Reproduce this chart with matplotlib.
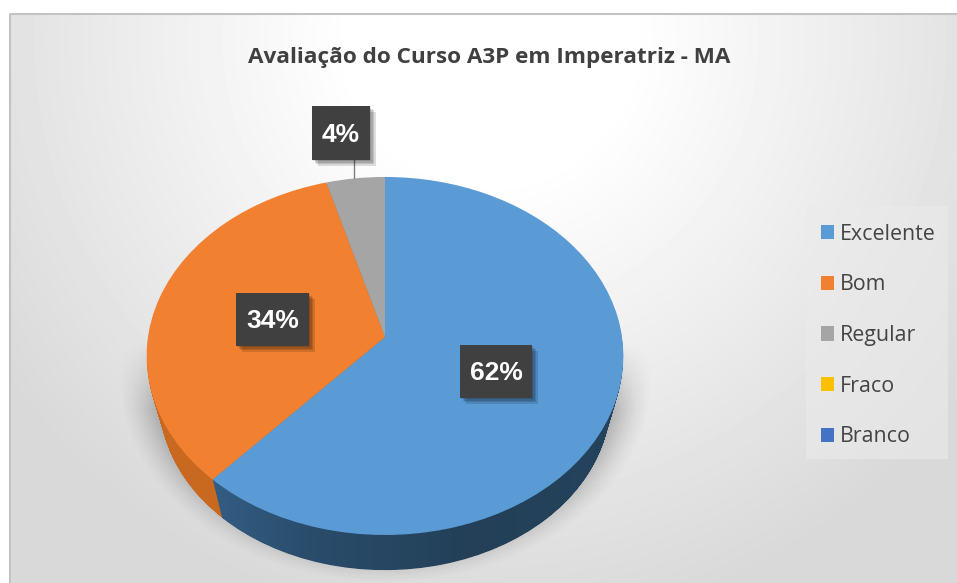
import numpy as np
import matplotlib
matplotlib.use("Agg")
import matplotlib.pyplot as plt
import matplotlib.patheffects as pe
from matplotlib.colors import LinearSegmentedColormap
from matplotlib.patches import Rectangle, Wedge
from matplotlib.path import Path
from matplotlib.transforms import Transform

# dados
categorias = ["Excelente", "Bom", "Regular", "Fraco", "Branco"]
valores = [61.7, 33.9, 4.4, 0, 0]
cores = ["#5b9bd5", "#f18030", "#a5a5a5", "#ffc000", "#4472c4"]
titulo = "Avaliação do Curso A3P em Imperatriz - MA"

W, H = 957, 583
PROFUNDIDADE = 46


class Perspectiva(Transform):
    """Leva o circulo unitario do pie para pixels, com perspectiva."""
    input_dims = output_dims = 2
    is_affine = False
    is_separable = False
    has_inverse = False

    def __init__(self, d=0):
        super().__init__()
        self.d = d

    def transform_non_affine(self, values):
        values = np.asarray(values, dtype=float)
        u, v = values[:, 0], values[:, 1]
        k = 0.106
        q = 1 + k * v
        # a base da pizza fica mais longe, entao encolhe um pouco
        s = 1 - 0.055 * self.d / PROFUNDIDADE
        return np.column_stack([385 + s * 237 * u / q, 337 + self.d - s * 177 * v / q])


fig = plt.figure(figsize=(W / 100, H / 100), dpi=100, facecolor="white")
ax = fig.add_axes([0, 0, 1, 1])

wedges, _ = ax.pie(valores, colors=cores, startangle=90, counterclock=False, radius=1)
ax.set_aspect("auto")
ax.axis("off")

# fundo com gradiente radial
xx, yy = np.meshgrid(np.arange(W), np.arange(H))
dist = np.hypot(xx - 490, yy - 40)
cinza = 255 - np.clip((dist - 150) * 0.085, 0, 38)
fundo = np.clip(cinza, 0, 255).astype(np.uint8)
ax.imshow(fundo, cmap="gray", vmin=0, vmax=255, extent=(0, W, H, 0), aspect="auto", zorder=0)
ax.add_patch(Rectangle((0, 0), 9, H, fc="white", ec="none", zorder=0.4))
ax.add_patch(Rectangle((0, 0), W, 13, fc="white", ec="none", zorder=0.4))
ax.add_patch(Rectangle((9.5, 13.5), W, H, fill=False, ec="#c2c2c2", lw=1.5, zorder=0.5))

# sombra embaixo da pizza
r = np.hypot((xx - 385) / 245, (yy - 375) / 190)
sombra = np.zeros((H, W, 4))
sombra[..., 3] = 0.35 * np.clip((1.1 - r) / 0.2, 0, 1) ** 1.5 * np.clip((yy - 340) / 70, 0, 1)
ax.imshow(sombra, extent=(0, W, H, 0), aspect="auto", zorder=1)

# lateral 3D com gradiente na horizontal
lados = {0: ("#3a6896", "#2a4d6c", "#234058", "#25435d"),
         1: ("#c96a22", "#c9661c", "#bd5c12", "#b85a10"),
         2: ("#777777", "#777777", "#777777", "#777777")}
gradiente = np.linspace(0, 1, 256).reshape(1, -1)
for i, w in enumerate(wedges):
    if valores[i] == 0:
        continue
    caminhos = []
    for d in range(PROFUNDIDADE, 0, -1):
        p = Wedge((0, 0), 1, w.theta1, w.theta2).get_path()
        caminhos.append(Perspectiva(d).transform_path(p))
    cmap = LinearSegmentedColormap.from_list("lado", lados[i])
    # azul por cima, senao a lateral laranja invade a emenda
    im = ax.imshow(gradiente, cmap=cmap, extent=(146, 624, 610, 170), aspect="auto", zorder=2.5 - i * 0.1)
    im.set_clip_path(Path.make_compound_path(*caminhos), ax.transData)

for w in wedges:
    w.set_transform(Perspectiva() + ax.transData)
    w.set_zorder(3)

# linha guia do 4%
ax.plot([354, 354], [160, 178], color="#7f7f7f", lw=1, zorder=3.5)

# rotulos
caixas = [(460, 345, 72, 53), (236, 293, 73, 53), (312, 106, 58, 54)]
sombra_caixa = [pe.SimplePatchShadow(offset=(o, -o), shadow_rgbFace="black", alpha=0.13) for o in (1, 2, 3, 4)]
for v, (x, y, lw, lh) in zip(valores, caixas):
    ax.add_patch(Rectangle((x, y), lw, lh, fc="#404040", ec="none", zorder=4,
                           path_effects=sombra_caixa + [pe.Normal()]))
    ax.text(x + lw / 2, y + lh / 2 + 2, f"{v:.0f}%", color="white", fontsize=19, fontweight="bold",
            family="Liberation Sans", ha="center", va="center", zorder=5)

ax.text(489, 57, titulo, color="#404040", fontsize=16.2, fontweight="bold", family="Open Sans",
        ha="center", va="center", zorder=5)

# legenda
ax.add_patch(Rectangle((806, 206), 142, 253, fc="#ebebeb", ec="none", alpha=0.6, zorder=1))
ax.legend(wedges, categorias, loc="upper left", bbox_to_anchor=(803.2, 206), bbox_transform=ax.transData,
          frameon=False, prop={"family": "Open Sans", "size": 15.4}, labelcolor="#444444",
          handlelength=0.6, handleheight=0.65, handletextpad=0.28, labelspacing=1.385,
          borderpad=0.83, borderaxespad=0)

ax.set_xlim(0, W)
ax.set_ylim(H, 0)
fig.savefig("out.png", dpi=100)
